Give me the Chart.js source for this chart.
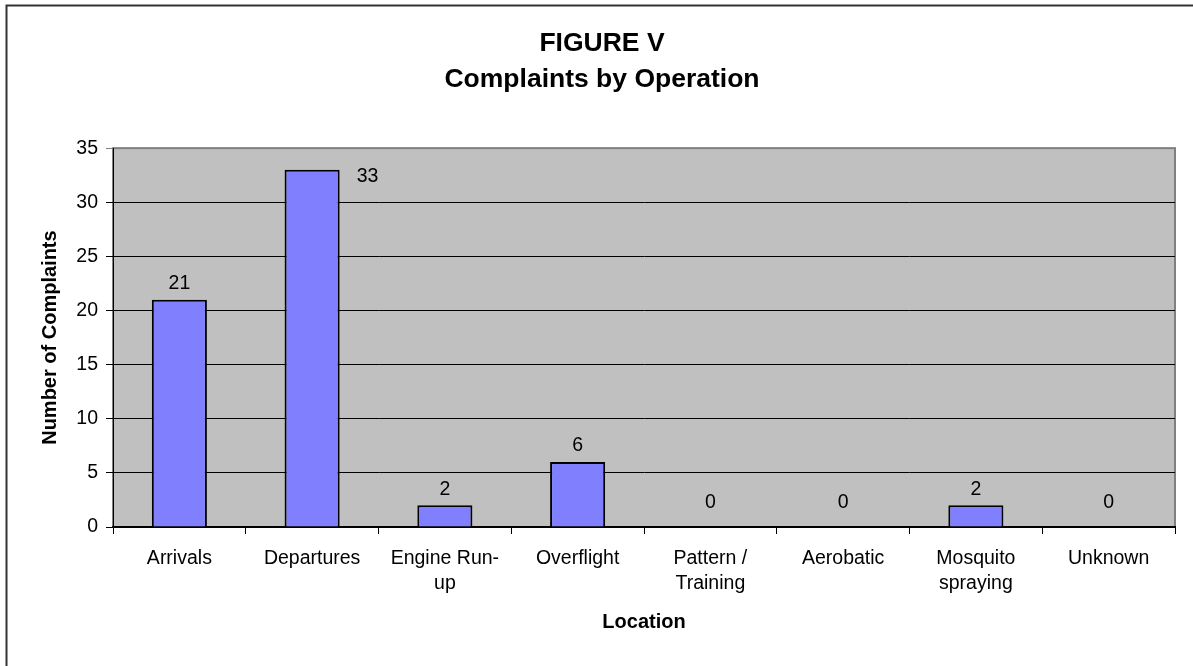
<!DOCTYPE html>
<html>
<head>
<meta charset="utf-8">
<script src="https://cdn.jsdelivr.net/npm/chart.js@4/dist/chart.umd.min.js"></script>
<style>
html,body{margin:0;padding:0;background:#fff;}
#wrap{position:relative;width:1193px;height:666px;}
</style>
</head>
<body>
<div id="wrap"><canvas id="c" width="1193" height="666"></canvas></div>
<script>
const categories = [
  ['Arrivals'],
  ['Departures'],
  ['Engine Run-', 'up'],
  ['Overflight'],
  ['Pattern /', 'Training'],
  ['Aerobatic'],
  ['Mosquito', 'spraying'],
  ['Unknown']
];
const complaints = [21, 33, 2, 6, 0, 0, 2, 0];
const yTicks = [0, 5, 10, 15, 20, 25, 30, 35];
const titleLines = ['FIGURE V', 'Complaints by Operation'];
const xTitle = 'Location';
const yTitle = 'Number of Complaints';

const FONT = "'Liberation Sans', Arial, sans-serif";

const framePlugin = {
  id: 'frame',
  beforeDraw(chart) {
    const {ctx, chartArea: a} = chart;
    ctx.save();
    ctx.fillStyle = '#C0C0C0';
    ctx.fillRect(a.left, a.top, a.right - a.left, a.bottom - a.top);
    ctx.strokeStyle = '#808080';
    ctx.lineWidth = 2;
    ctx.strokeRect(a.left, a.top, a.right - a.left, a.bottom - a.top);
    ctx.strokeStyle = '#333333';
    ctx.lineWidth = 2;
    ctx.strokeRect(6.5, 5.5, 1400, 1000);
    ctx.restore();
  }
};

const valueLabels = {
  id: 'valueLabels',
  afterDatasetsDraw(chart) {
    const {ctx, chartArea: a} = chart;
    const meta = chart.getDatasetMeta(0);
    const yScale = chart.scales.y;
    const base = yScale.getPixelForValue(0);
    ctx.save();
    ctx.font = '19.5px ' + FONT;
    ctx.fillStyle = '#000';
    ctx.textBaseline = 'middle';
    meta.data.forEach((bar, i) => {
      const v = complaints[i];
      const half = bar.width / 2;
      let x = bar.x;
      let y = Math.min(bar.y - 16, base - 24);
      ctx.textAlign = 'center';
      if (y - 10 < a.top) {
        x = bar.x + half + 17;
        y = bar.y + 7;
        ctx.textAlign = 'left';
      }
      ctx.fillText(String(v), x, y);
    });
    ctx.restore();
  }
};

new Chart(document.getElementById('c'), {
  type: 'bar',
  data: {
    labels: categories,
    datasets: [{
      data: complaints,
      backgroundColor: '#8080FF',
      borderColor: '#000000',
      borderWidth: 2,
      categoryPercentage: 1,
      barPercentage: 0.415
    }]
  },
  options: {
    responsive: false,
    animation: false,
    devicePixelRatio: 1,
    layout: { padding: { left: 29, right: 18, top: 0, bottom: 0 } },
    plugins: {
      legend: { display: false },
      tooltip: { enabled: false },
      title: {
        display: true,
        text: titleLines,
        color: '#000',
        font: { family: FONT, size: 26.5, weight: 'bold', lineHeight: 1.38 },
        padding: { top: 25, bottom: 50 }
      }
    },
    scales: {
      x: {
        grid: {
          offset: true,
          drawOnChartArea: false,
          drawTicks: true,
          tickLength: 7,
          color: '#000'
        },
        border: { display: true, color: '#000', width: 2 },
        ticks: {
          color: '#000',
          font: { family: FONT, size: 19.5, lineHeight: 1.3 },
          padding: 12,
          maxRotation: 0,
          autoSkip: false
        },
        title: {
          display: true,
          text: xTitle,
          color: '#000',
          font: { family: FONT, size: 20, weight: 'bold', lineHeight: 1.2 },
          padding: { top: 0, bottom: 32 }
        },
        afterFit(s) { s.height = 139; }
      },
      y: {
        min: 0,
        max: 35,
        afterBuildTicks(s) { s.ticks = yTicks.map(v => ({ value: v })); },
        grid: {
          drawTicks: true,
          tickLength: 7,
          color: (c) => (c.tick && c.tick.value === 35) ? '#808080' : '#000',
          lineWidth: 1
        },
        border: { display: true, color: '#000', width: 1 },
        ticks: {
          color: '#000',
          font: { family: FONT, size: 19.5 },
          padding: 8
        },
        title: {
          display: true,
          text: yTitle,
          color: '#000',
          font: { family: FONT, size: 20, weight: 'bold', lineHeight: 1.2 },
          padding: { top: 9, bottom: 0 }
        },
        afterFit(s) { s.width = 84; }
      }
    }
  },
  plugins: [framePlugin, valueLabels]
});
</script>
</body>
</html>
